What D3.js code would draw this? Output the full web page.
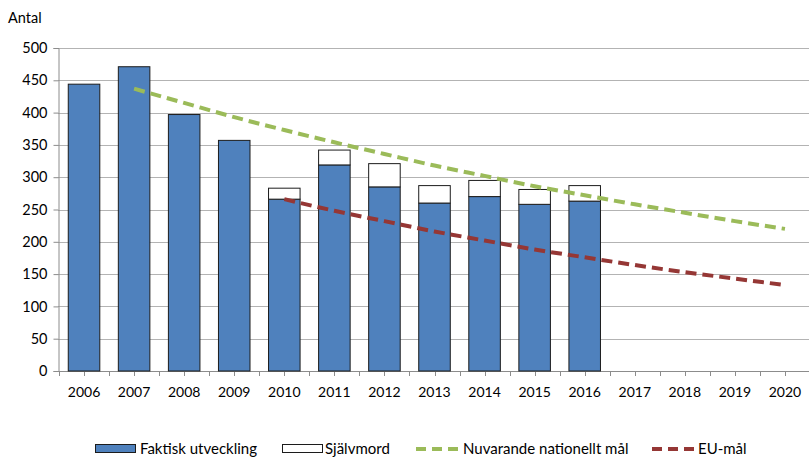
<!DOCTYPE html>
<html>
<head>
<meta charset="utf-8">
<script src="https://cdn.jsdelivr.net/npm/d3@7"></script>
<style>
  body { margin: 0; background: #fff; }
  text { font-family: Lato, "Open Sans", sans-serif; fill: #000; }
</style>
</head>
<body>
<div id="chart"></div>
<script>
// values
var years = ["2006","2007","2008","2009","2010","2011","2012","2013","2014","2015","2016","2017","2018","2019","2020"]
var faktisk = [444, 471, 397, 357, 266, 319, 285, 260, 270, 258, 263]
var sjalvmord = [0, 0, 0, 0, 17, 23, 36, 27, 25, 23, 24]
var nationelltYears = ["2007","2008","2009","2010","2011","2012","2013","2014","2015","2016","2017","2018","2019","2020"]
var nationellt = [437, 415, 393, 373, 354, 336, 318, 302, 286, 272, 258, 245, 232, 220]
var euYears = ["2010","2011","2012","2013","2014","2015","2016","2017","2018","2019","2020"]
var euMal = [266, 248, 232, 216, 202, 188, 176, 164, 153, 143, 133]
var yTicks = [0, 50, 100, 150, 200, 250, 300, 350, 400, 450, 500]

var svgSize = { width: 809, height: 457 }
var plot = { left: 59, right: 810, top: 48, bottom: 371 }

var svg = d3.select("#chart").append("svg")
            .attr("width", svgSize.width)
            .attr("height", svgSize.height)

var x = d3.scaleBand().domain(years)
          .range([plot.left, plot.right])
          .paddingInner(0.37).paddingOuter(0.185)
var y = d3.scaleLinear().domain([0, 500]).range([plot.bottom, plot.top])
var step = x.step()
var cx = d => x(d) + x.bandwidth() / 2

// gridlines
svg.append("g").selectAll("line").data(yTicks.slice(1)).enter().append("line")
   .attr("x1", plot.left - 1).attr("x2", svgSize.width)
   .attr("y1", d => Math.round(y(d)) + 0.5).attr("y2", d => Math.round(y(d)) + 0.5)
   .attr("stroke", "#b3b3b3").attr("stroke-width", 1.2)

// y axis
var leftAxis = d3.axisLeft(y).tickValues(yTicks).tickSize(5).tickPadding(6)
var gy = svg.append("g").attr("transform", `translate(${plot.left - 0.5},0)`).call(leftAxis)
gy.select(".domain").attr("stroke", "#8c8c8c")
gy.selectAll(".tick line").attr("stroke", "#8c8c8c")
gy.selectAll("text").style("font-size", "14.5px").attr("font-family", "Lato, sans-serif")

// x axis ticks at boundaries and centers
var tickPos = []
years.forEach((yr, i) => {
  tickPos.push(plot.left + i * step)
  tickPos.push(cx(yr))
})
tickPos.push(plot.left + years.length * step)
var gx = svg.append("g")
gx.append("line").attr("x1", plot.left - 5).attr("x2", svgSize.width)
  .attr("y1", plot.bottom + 0.5).attr("y2", plot.bottom + 0.5)
  .attr("stroke", "#8c8c8c").attr("stroke-width", 1.2)
gx.selectAll("line.t").data(tickPos).enter().append("line").attr("class", "t")
  .attr("x1", d => Math.round(d) + 0.5).attr("x2", d => Math.round(d) + 0.5)
  .attr("y1", plot.bottom).attr("y2", plot.bottom + 5)
  .attr("stroke", "#8c8c8c")
gx.selectAll("text").data(years).enter().append("text")
  .attr("x", d => cx(d)).attr("y", plot.bottom + 26)
  .attr("text-anchor", "middle").style("font-size", "14px")
  .text(d => d)

// bars
var bars = svg.append("g")
var actual = years.slice(0, faktisk.length)
bars.selectAll("rect.f").data(actual).enter().append("rect").attr("class", "f")
    .attr("x", d => x(d)).attr("width", x.bandwidth())
    .attr("y", (d, i) => y(faktisk[i]))
    .attr("height", (d, i) => y(0) - y(faktisk[i]))
    .attr("fill", "#4f81bd").attr("stroke", "#1c1c1c").attr("stroke-width", 1)
bars.selectAll("rect.s").data(actual.filter((d, i) => sjalvmord[i] > 0)).enter().append("rect").attr("class", "s")
    .attr("x", d => x(d)).attr("width", x.bandwidth())
    .attr("y", d => { var i = years.indexOf(d); return y(faktisk[i] + sjalvmord[i]) })
    .attr("height", d => { var i = years.indexOf(d); return y(faktisk[i]) - y(faktisk[i] + sjalvmord[i]) })
    .attr("fill", "#fff").attr("stroke", "#1c1c1c").attr("stroke-width", 1)

// target lines
var line = d3.line().x(d => cx(d[0])).y(d => y(d[1])).curve(d3.curveMonotoneX)
svg.append("path").datum(nationelltYears.map((d, i) => [d, nationellt[i]]))
   .attr("d", line).attr("fill", "none")
   .attr("stroke", "#9bbb59").attr("stroke-width", 4).attr("stroke-dasharray", "11,6")
svg.append("path").datum(euYears.map((d, i) => [d, euMal[i]]))
   .attr("d", line).attr("fill", "none")
   .attr("stroke", "#953735").attr("stroke-width", 4).attr("stroke-dasharray", "11,6")

// y title
svg.append("text").attr("x", 8).attr("y", 23).style("font-size", "14.5px").text("Antal")

// legend
var lg = svg.append("g")
var ly = 449
lg.append("rect").attr("x", 95.5).attr("y", ly - 4.5).attr("width", 40).attr("height", 8)
  .attr("fill", "#4f81bd").attr("stroke", "#1c1c1c")
lg.append("text").attr("x", 140).attr("y", ly + 5).style("font-size", "15px").text("Faktisk utveckling")
lg.append("rect").attr("x", 282.5).attr("y", ly - 4.5).attr("width", 40).attr("height", 8)
  .attr("fill", "#fff").attr("stroke", "#1c1c1c")
lg.append("text").attr("x", 325).attr("y", ly + 5).style("font-size", "15px").text("Självmord")
lg.append("line").attr("x1", 416).attr("x2", 458).attr("y1", ly).attr("y2", ly)
  .attr("stroke", "#9bbb59").attr("stroke-width", 4).attr("stroke-dasharray", "10,6")
lg.append("text").attr("x", 463).attr("y", ly + 5).style("font-size", "15px").text("Nuvarande nationellt mål")
lg.append("line").attr("x1", 652).attr("x2", 694).attr("y1", ly).attr("y2", ly)
  .attr("stroke", "#953735").attr("stroke-width", 4).attr("stroke-dasharray", "10,6")
lg.append("text").attr("x", 698).attr("y", ly + 5).style("font-size", "15px").text("EU-mål")
</script>
</body>
</html>
